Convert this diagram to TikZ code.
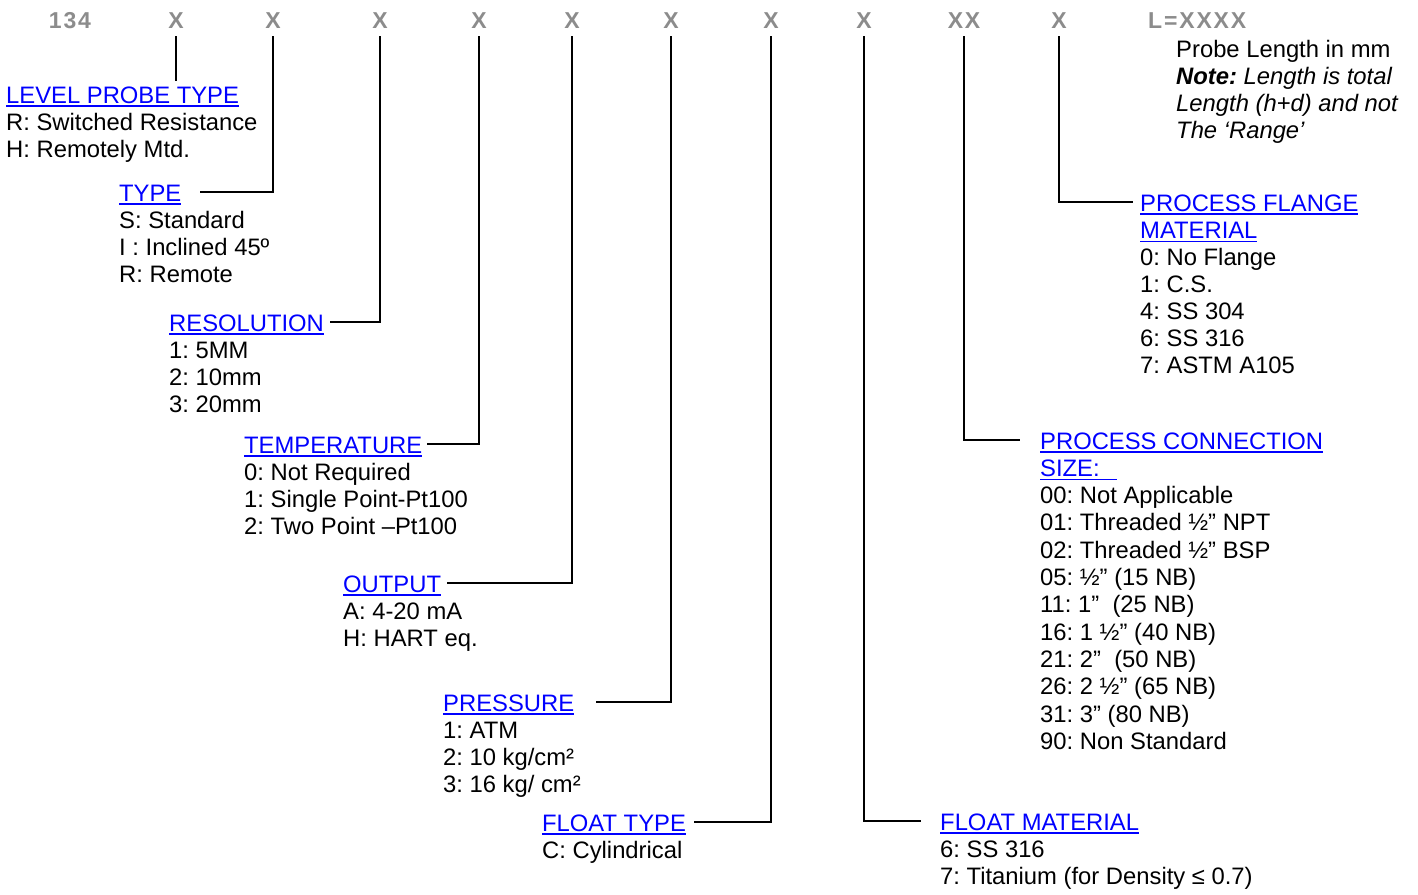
\documentclass[tikz,border=0pt]{standalone}
\usepackage{fontspec}
\setmainfont{Liberation Sans}
\newfontfamily\hdfont[LetterSpace=8]{Liberation Sans}
\usetikzlibrary{positioning}
\frenchspacing
\definecolor{hdgray}{RGB}{140,140,140}
\definecolor{ttlblue}{RGB}{0,0,255}
\newcommand{\ttlul}[1]{\setbox0\hbox{#1}\rlap{\rule[-4pt]{\wd0}{1.6pt}}\box0}
\newcommand{\ttltext}[1]{\textcolor{ttlblue}{\ttlul{#1}}}
\tikzset{
  hd/.style={font=\hdfont\bfseries\fontsize{23}{27}\selectfont, text=hdgray, inner sep=0pt, anchor=base},
  ttl/.style={font=\fontsize{23.8}{27}\selectfont, text=ttlblue, inner sep=0pt, anchor=base west, text height=18pt, text depth=0pt},
  desc/.style={font=\fontsize{23.8}{27}\selectfont, align=left, inner sep=0pt, anchor=north west},
  lead/.style={line width=2pt},
}
\begin{document}
\begin{tikzpicture}[x=1pt,y=-1pt]
  \useasboundingbox (0,0) rectangle (1418,894);
  % code header
  \node[hd] (hd0) at (70,28) {134};
  \node[hd] (hd1) at (176,28) {X};
  \node[hd] (hd2) at (273,28) {X};
  \node[hd] (hd3) at (380,28) {X};
  \node[hd] (hd4) at (479,28) {X};
  \node[hd] (hd5) at (572,28) {X};
  \node[hd] (hd6) at (671,28) {X};
  \node[hd] (hd7) at (771,28) {X};
  \node[hd] (hd8) at (864,28) {X};
  \node[hd] (hd9) at (964,28) {XX};
  \node[hd] (hd10) at (1059,28) {X};
  \node[hd, anchor=base west] (len) at (1148,28) {L=XXXX};
  \node[desc] (lnote) at (1176,38.1) {\strut Probe Length in mm\\
    \textit{\textbf{Note:} Length is total}\\
    \textit{Length (h+d) and not}\\
    \textit{The ‘Range’}};
  % titles
  \node[ttl] (lvl) at (6,103) {\ttlul{LEVEL PROBE TYPE}};
  \node[ttl] (typ) at (119,201) {\ttlul{TYPE}};
  \node[ttl] (res) at (169,331) {\ttlul{RESOLUTION}};
  \node[ttl] (tmp) at (244,453) {\ttlul{TEMPERATURE}};
  \node[ttl] (out) at (343,592) {\ttlul{OUTPUT}};
  \node[ttl] (prs) at (443,711) {\ttlul{PRESSURE}};
  \node[ttl] (flt) at (542,831) {\ttlul{FLOAT TYPE}};
  \node[ttl] (fmat) at (940,830) {\ttlul{FLOAT MATERIAL}};
  \node[ttl] (conn) at (1040,449) {\ttlul{PROCESS CONNECTION}};
  \node[ttl] (flg) at (1140,211) {\ttlul{PROCESS FLANGE}};
  % options
  \node[desc, below=8.1pt of lvl.base west, anchor=north west] (lvld) {\strut R: Switched Resistance\\ H: Remotely Mtd.};
  \node[desc, below=8.1pt of typ.base west, anchor=north west] (typd) {\strut S: Standard\\ I : Inclined 45º\\ R: Remote};
  \node[desc, below=8.1pt of res.base west, anchor=north west] (resd) {\strut 1: 5MM\\ 2: 10mm\\ 3: 20mm};
  \node[desc, below=8.1pt of tmp.base west, anchor=north west] (tmpd) {\strut 0: Not Required\\ 1: Single Point-Pt100\\ 2: Two Point –Pt100};
  \node[desc, below=8.1pt of out.base west, anchor=north west] (outd) {\strut A: 4-20 mA\\ H: HART eq.};
  \node[desc, below=8.1pt of prs.base west, anchor=north west] (prsd) {\strut 1: ATM\\ 2: 10 kg/cm²\\ 3: 16 kg/ cm²};
  \node[desc, below=8.1pt of flt.base west, anchor=north west] (fltd) {\strut C: Cylindrical};
  \node[desc, below=8.1pt of fmat.base west, anchor=north west] (fmatd) {\strut 6: SS 316\\ 7: Titanium (for Density ≤ 0.7)};
  \node[desc, font=\fontsize{23.8}{27.3}\selectfont, below=8pt of conn.base west, anchor=north west] (connd) {\strut \ttltext{SIZE:\hspace{17pt}}\\
    00: Not Applicable\\ 01: Threaded ½” NPT\\ 02: Threaded ½” BSP\\ 05: ½” (15 NB)\\
    11: 1”~ (25 NB)\\ 16: 1 ½” (40 NB)\\ 21: 2”~ (50 NB)\\ 26: 2 ½” (65 NB)\\
    31: 3” (80 NB)\\ 90: Non Standard};
  \node[desc, below=8.1pt of flg.base west, anchor=north west] (flgd) {\strut \ttltext{MATERIAL}\\
    0: No Flange\\ 1: C.S.\\ 4: SS 304\\ 6: SS 316\\ 7: ASTM A105};
  % leaders
  \draw[lead] (hd1.south) ++(0,8) -- ([yshift=4pt]hd1.south |- lvl.north);
  \draw[lead] (hd2.south) ++(0,8) |- ([xshift=18pt]typ.east);
  \draw[lead] (hd3.south) ++(0,8) |- ([xshift=6pt]res.east);
  \draw[lead] (hd4.south) ++(0,8) |- ([xshift=5pt]tmp.east);
  \draw[lead] (hd5.south) ++(0,8) |- ([xshift=6pt]out.east);
  \draw[lead] (hd6.south) ++(0,8) |- ([xshift=22pt]prs.east);
  \draw[lead] (hd7.south) ++(0,8) |- ([xshift=8pt]flt.east);
  \draw[lead] (hd8.south) ++(0,8) |- ([xshift=-19pt]fmat.west);
  \draw[lead] (hd9.south) ++(0,8) |- ([xshift=-20pt]conn.west);
  \draw[lead] (hd10.south) ++(0,8) |- ([xshift=-7pt]flg.west);
\end{tikzpicture}
\end{document}
